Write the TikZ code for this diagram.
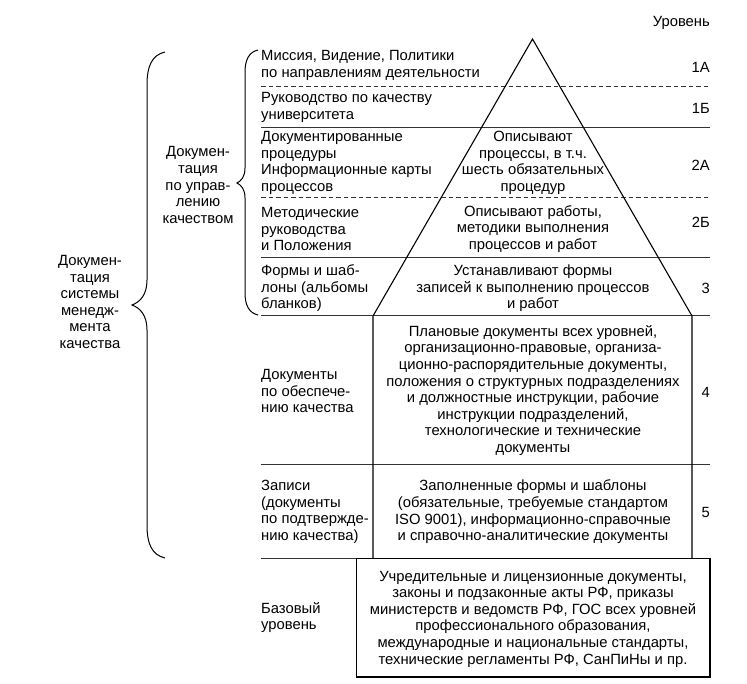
\documentclass[tikz,border=0pt]{standalone}
\usepackage{fontspec}
\setmainfont{Liberation Sans}
\begin{document}
\begin{tikzpicture}[x=1pt,y=-1pt,
  txt/.style={inner sep=0pt,font=\fontsize{14.8pt}{16.6pt}\selectfont},
  lefttxt/.style={txt,anchor=west,align=left},
  midtxt/.style={txt,anchor=center,align=center},
  lvl/.style={txt,anchor=east},
  rule/.style={line width=1pt,draw=black!80},
  dashrule/.style={line width=1pt,draw=black!80,dash pattern=on 4.5pt off 3pt},
  pyr/.style={line width=1.1pt,draw=black},
  bracel/.style={line width=1pt,draw=black}]
\useasboundingbox (0,0) rectangle (747,684);

% horizontal rules
\coordinate (l0) at (261,87);  \coordinate (r0) at (710,87);
\coordinate (l1) at (261,128); \coordinate (r1) at (710,128);
\coordinate (l2) at (261,198); \coordinate (r2) at (710,198);
\coordinate (l3) at (261,258); \coordinate (r3) at (710,258);
\coordinate (l4) at (261,316); \coordinate (r4) at (710,316);
\coordinate (l5) at (261,464); \coordinate (r5) at (710,464);
\coordinate (l6) at (261,558); \coordinate (r6) at (710,558);
\draw[dashrule] (l0) -- (r0);
\draw[rule] (l1) -- (r1);
\draw[dashrule] (l2) -- (r2);
\draw[rule] (l3) -- (r3);
\draw[rule] (l4) -- (r4);
\draw[rule] (l5) -- (r5);
\draw[rule] (l6) -- (r6);

% pyramid
\coordinate (apex) at (532.5,39);
\coordinate (bl) at (373,316);
\coordinate (br) at (692,316);
\coordinate (bl2) at (373,558);
\coordinate (br2) at (692,558);
\draw[pyr] (bl2) -- (bl) -- (apex) -- (br) -- (br2);

% base box
\coordinate (bx1) at (356,558);
\coordinate (bx2) at (710,677);
\draw[line width=1pt] (bx1) rectangle (bx2);
\draw[line width=2pt] (356,677) -- (710,677) -- (710,558);

% braces
\draw[bracel] (258,50) .. controls (249,52) and (245,60) .. (245,72) -- (245,168)
  .. controls (245,177) and (241,181) .. (237,183)
  .. controls (241,185) and (245,189) .. (245,198) -- (245,293)
  .. controls (245,305) and (249,313) .. (258,315);
\draw[bracel] (165,52) .. controls (152,55) and (147,66) .. (147,85) -- (147,280)
  .. controls (147,295) and (140,302) .. (132,305)
  .. controls (140,308) and (147,315) .. (147,330) -- (147,525)
  .. controls (147,544) and (152,555) .. (165,558);

% brace labels
\node[midtxt] (qm) at (198,185) {Докумен-\\тация\\по управ-\\лению\\качеством};
\node[midtxt] (qms) at (90,302) {Докумен-\\тация\\системы\\менедж-\\мента\\качества};

% left column
\node[lefttxt] (t1a) at (261,65.5) {Миссия, Видение, Политики\\по направлениям деятельности};
\node[lefttxt] (t1b) at (261,107.5) {Руководство по качеству\\университета};
\node[lefttxt] (t2a) at (261,163) {Документированные\\процедуры\\Информационные карты\\процессов};
\node[lefttxt] (t2b) at (261,229) {Методические\\руководства\\и Положения};
\node[lefttxt] (t3) at (261,288.5) {Формы и шаб-\\лоны (альбомы\\бланков)};
\node[lefttxt] (t4) at (261,391) {Документы\\по обеспече-\\нию качества};
\node[lefttxt] (t5) at (261,512) {Записи\\(документы\\по подтвержде-\\нию качества)};
\node[lefttxt] (tb) at (261,617.5) {Базовый\\уровень};

% middle column
\node[midtxt] (m2a) at (533,163) {Описывают\\процессы, в т.ч.\\шесть обязательных\\процедур};
\node[midtxt] (m2b) at (533,229) {Описывают работы,\\методики выполнения\\процессов и работ};
\node[midtxt] (m3) at (533,288.5) {Устанавливают формы\\записей к выполнению процессов\\и работ};
\node[midtxt] (m4) at (533,390.5) {Плановые документы всех уровней,\\организационно-правовые, организа-\\ционно-распорядительные документы,\\положения о структурных подразделениях\\и должностные инструкции, рабочие\\инструкции подразделений,\\технологические и технические\\документы};
\node[midtxt] (m5) at (533,512) {Заполненные формы и шаблоны\\(обязательные, требуемые стандартом\\ISO 9001), информационно-справочные\\и справочно-аналитические документы};
\node[midtxt] (mb) at (533,619) {Учредительные и лицензионные документы,\\законы и подзаконные акты РФ, приказы\\министерств и ведомств РФ, ГОС всех уровней\\профессионального образования,\\международные и национальные стандарты,\\технические регламенты РФ, СанПиНы и пр.};

% levels
\node[lvl] (lv) at (710,23) {Уровень};
\node[lvl] (v1a) at (710,67) {1А};
\node[lvl] (v1b) at (710,108) {1Б};
\node[lvl] (v2a) at (710,165) {2А};
\node[lvl] (v2b) at (710,222) {2Б};
\node[lvl] (v3) at (710,288) {3};
\node[lvl] (v4) at (710,392) {4};
\node[lvl] (v5) at (710,512) {5};
\end{tikzpicture}
\end{document}
